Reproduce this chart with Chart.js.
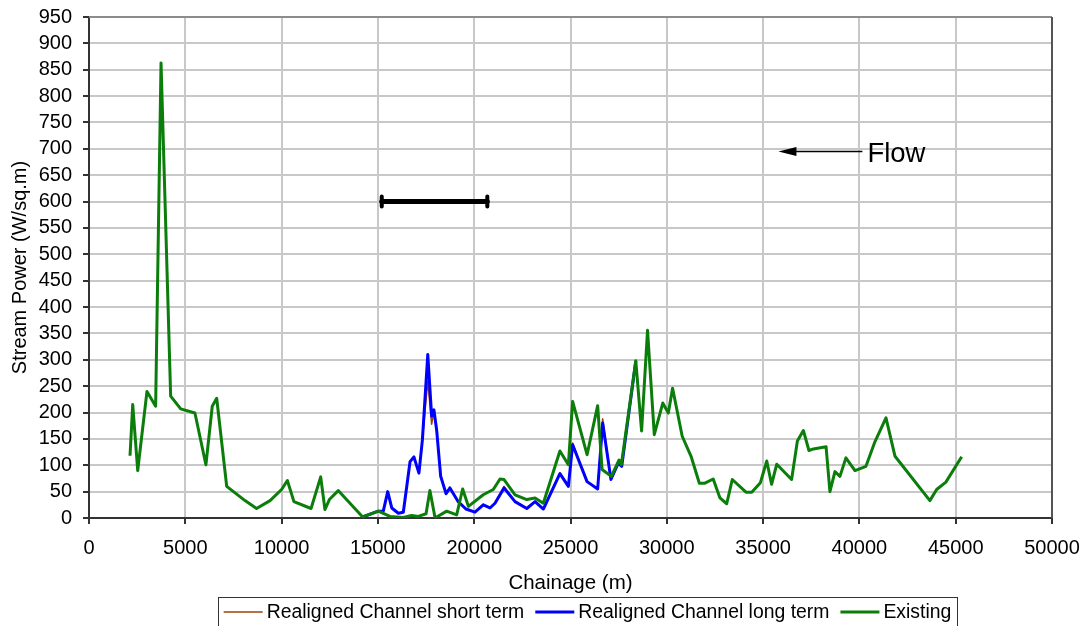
<!DOCTYPE html>
<html>
<head>
<meta charset="utf-8">
<script src="https://cdn.jsdelivr.net/npm/chart.js@4/dist/chart.umd.min.js"></script>
<style>
  html, body { margin: 0; padding: 0; background: #fff; }
  canvas { display: block; }
</style>
</head>
<body>
<canvas id="chart" width="1087" height="626"></canvas>
<script>
// Existing channel
const chainageExisting = [2130, 2270, 2530, 3010, 3460, 3740, 4240, 4760, 5500, 6070, 6400, 6630, 7150, 8100, 8700, 9400, 10000, 10300, 10640, 11530, 12030, 12250, 12480, 12940, 14210, 15020, 15630, 16320, 16750, 17100, 17500, 17700, 17970, 18570, 19090, 19400, 19700, 20470, 20990, 21340, 21550, 22120, 22730, 23160, 23590, 24450, 24890, 25110, 25860, 26410, 26640, 27120, 27520, 27640, 28390, 28690, 29000, 29350, 29790, 30080, 30300, 30800, 31260, 31690, 31980, 32410, 32760, 33110, 33400, 34110, 34410, 34860, 35190, 35440, 35710, 36480, 36780, 37090, 37380, 37610, 38270, 38470, 38730, 38990, 39300, 39770, 40340, 40810, 41380, 41850, 43660, 44010, 44490, 45310];
const existing = [118, 215, 90, 240, 212, 863, 231, 207, 199, 101, 212, 227, 60, 33, 18, 33, 54, 71, 31, 18, 78, 16, 35, 52, 2, 13, 3, 1, 5, 3, 8, 52, 0, 13, 6, 55, 22, 44, 54, 74, 73, 44, 35, 38, 28, 127, 101, 221, 120, 213, 92, 79, 110, 101, 298, 165, 356, 158, 218, 199, 246, 155, 117, 66, 66, 74, 38, 27, 73, 49, 49, 67, 108, 64, 102, 73, 146, 166, 128, 131, 135, 50, 88, 79, 114, 90, 98, 145, 190, 117, 33, 54, 68, 116];

// Realigned reach (where it differs from existing)
const chainageRealigned = [14210, 15020, 15280, 15510, 15720, 16060, 16320, 16670, 16870, 17130, 17310, 17590, 17790, 17910, 18050, 18260, 18540, 18740, 19170, 19570, 20040, 20470, 20820, 21080, 21550, 22120, 22730, 23160, 23590, 24450, 24890, 25110, 25860, 26410, 26670, 27100, 27480, 27660, 28390];
const longTerm = [2, 13, 13, 50, 19, 9, 11, 107, 116, 85, 148, 310, 193, 205, 167, 79, 46, 57, 31, 17, 11, 25, 19, 28, 57, 31, 18, 31, 17, 84, 60, 139, 69, 55, 180, 73, 104, 98, 298];
const shortTerm = [2, 13, 13, 50, 19, 9, 11, 107, 116, 85, 148, 260, 178, 200, 165, 82, 46, 58, 31, 17, 11, 26, 19, 29, 60, 31, 19, 31, 17, 86, 60, 142, 69, 55, 188, 73, 104, 98, 298];

const xTicks = [0, 5000, 10000, 15000, 20000, 25000, 30000, 35000, 40000, 45000, 50000];
const yTicks = [0, 50, 100, 150, 200, 250, 300, 350, 400, 450, 500, 550, 600, 650, 700, 750, 800, 850, 900, 950];

// Annotations: design reach bar and flow arrow
const reachBar = { from: 15200, to: 20680, y: 600 };
const flowArrow = { from: 40000, to: 35900, y: 695, label: 'Flow' };

const FONT = 'Liberation Sans, Arial, sans-serif';

function toPoints(xs, ys) {
    return xs.map((x, i) => ({ x: x, y: ys[i] }));
}

// Plot frame (top / right edges)
const framePlugin = {
    id: 'frame',
    afterDraw(chart) {
        const { ctx, chartArea: a } = chart;
        ctx.save();
        ctx.lineWidth = 2;
        ctx.strokeStyle = '#8c8c8c';
        ctx.beginPath();
        ctx.moveTo(a.left, a.top);
        ctx.lineTo(a.right, a.top);
        ctx.stroke();
        ctx.strokeStyle = '#555';
        ctx.beginPath();
        ctx.moveTo(a.right, a.top);
        ctx.lineTo(a.right, a.bottom);
        ctx.stroke();
        ctx.restore();
    }
};

// Reach bar and flow arrow drawn through the scales
const notesPlugin = {
    id: 'notes',
    afterDraw(chart) {
        const { ctx } = chart;
        const xs = chart.scales.x, ys = chart.scales.y;
        ctx.save();
        // bar
        const x1 = xs.getPixelForValue(reachBar.from);
        const x2 = xs.getPixelForValue(reachBar.to);
        const by = ys.getPixelForValue(reachBar.y);
        ctx.strokeStyle = '#000';
        ctx.lineCap = 'round';
        ctx.lineWidth = 5;
        ctx.beginPath();
        ctx.moveTo(x1, by);
        ctx.lineTo(x2, by);
        ctx.stroke();
        ctx.lineWidth = 4;
        ctx.beginPath();
        ctx.moveTo(x1, by - 5);
        ctx.lineTo(x1, by + 5);
        ctx.moveTo(x2, by - 5);
        ctx.lineTo(x2, by + 5);
        ctx.stroke();
        // arrow
        const ax1 = xs.getPixelForValue(flowArrow.from);
        const ax2 = xs.getPixelForValue(flowArrow.to);
        const ay = ys.getPixelForValue(flowArrow.y);
        ctx.lineCap = 'butt';
        ctx.lineWidth = 1.5;
        ctx.beginPath();
        ctx.moveTo(ax1 + 3, ay);
        ctx.lineTo(ax2 + 10, ay);
        ctx.stroke();
        ctx.fillStyle = '#000';
        ctx.beginPath();
        ctx.moveTo(ax2 - 2, ay);
        ctx.lineTo(ax2 + 16, ay - 4.5);
        ctx.lineTo(ax2 + 16, ay + 4.5);
        ctx.closePath();
        ctx.fill();
        ctx.font = '27.5px ' + FONT;
        ctx.textBaseline = 'middle';
        ctx.textAlign = 'left';
        ctx.fillText(flowArrow.label, ax1 + 8, ay + 3);
        ctx.restore();
    }
};

// Boxed legend along the bottom edge
const boxLegendPlugin = {
    id: 'boxLegend',
    afterDraw(chart) {
        const { ctx } = chart;
        const sets = chart.data.datasets;
        const left = 218, right = 957, top = 597, bottom = 640;
        const cy = 612;
        const lineLen = 39, gapLine = 4, gapItem = 11;
        ctx.save();
        ctx.fillStyle = '#fff';
        ctx.fillRect(left, top, right - left, bottom - top);
        ctx.strokeStyle = '#333';
        ctx.lineWidth = 1;
        ctx.strokeRect(left + 0.5, top + 0.5, right - left, bottom - top);
        ctx.font = '19.4px ' + FONT;
        ctx.textBaseline = 'middle';
        let total = 0;
        sets.forEach(d => { total += lineLen + gapLine + ctx.measureText(d.label).width; });
        total += gapItem * (sets.length - 1);
        let x = (left + right) / 2 - total / 2;
        sets.forEach(d => {
            ctx.strokeStyle = d.borderColor;
            ctx.lineWidth = d.borderWidth;
            ctx.beginPath();
            ctx.moveTo(x, cy);
            ctx.lineTo(x + lineLen, cy);
            ctx.stroke();
            x += lineLen + gapLine;
            ctx.fillStyle = '#000';
            ctx.fillText(d.label, x, cy + 1);
            x += ctx.measureText(d.label).width + gapItem;
        });
        ctx.restore();
    }
};

new Chart(document.getElementById('chart').getContext('2d'), {
    type: 'line',
    data: {
        datasets: [{
            label: 'Realigned Channel short term',
            data: toPoints(chainageRealigned, shortTerm),
            borderColor: '#a0400a',
            borderWidth: 1.5,
            order: 3
        }, {
            label: 'Realigned Channel long term',
            data: toPoints(chainageRealigned, longTerm),
            borderColor: '#0000ff',
            borderWidth: 3,
            order: 2
        }, {
            label: 'Existing',
            data: toPoints(chainageExisting, existing),
            borderColor: '#0a7d0a',
            borderWidth: 3,
            order: 1
        }]
    },
    options: {
        responsive: false,
        animation: false,
        devicePixelRatio: 1,
        elements: {
            point: { radius: 0, hoverRadius: 0 },
            line: { tension: 0, fill: false, borderJoinStyle: 'round' }
        },
        layout: { padding: { top: 17, right: 35, left: 0, bottom: 0 } },
        plugins: {
            legend: { display: false },
            tooltip: { enabled: false }
        },
        scales: {
            x: {
                type: 'linear',
                min: 0,
                max: 50000,
                afterFit: s => {
                    s.height = 108;
                    s.paddingLeft = 0;
                    s.paddingRight = 0;
                },
                afterBuildTicks: s => { s.ticks = xTicks.map(v => ({ value: v })); },
                ticks: {
                    color: '#000',
                    font: { family: FONT, size: 20 },
                    padding: 12,
                    maxRotation: 0,
                    autoSkip: false,
                    callback: v => String(v)
                },
                grid: { color: '#c8c8c8', lineWidth: 2, tickColor: '#333', tickLength: 6 },
                border: { color: '#333', width: 2 },
                title: {
                    display: true,
                    text: 'Chainage (m)',
                    color: '#000',
                    font: { family: FONT, size: 20.5 },
                    padding: { top: 0, bottom: 30 }
                }
            },
            y: {
                min: 0,
                max: 950,
                afterFit: s => {
                    s.width = 89;
                    s.paddingTop = 0;
                    s.paddingBottom = 0;
                },
                afterBuildTicks: s => { s.ticks = yTicks.map(v => ({ value: v })); },
                ticks: {
                    color: '#000',
                    font: { family: FONT, size: 20 },
                    padding: 11,
                    autoSkip: false
                },
                grid: { color: '#c8c8c8', lineWidth: 2, tickColor: '#333', tickLength: 6 },
                border: { color: '#333', width: 2 },
                title: {
                    display: true,
                    text: 'Stream Power (W/sq.m)',
                    color: '#000',
                    font: { family: FONT, size: 20 },
                    padding: { top: 8, bottom: 0 }
                }
            }
        }
    },
    plugins: [framePlugin, notesPlugin, boxLegendPlugin]
});
</script>
</body>
</html>
